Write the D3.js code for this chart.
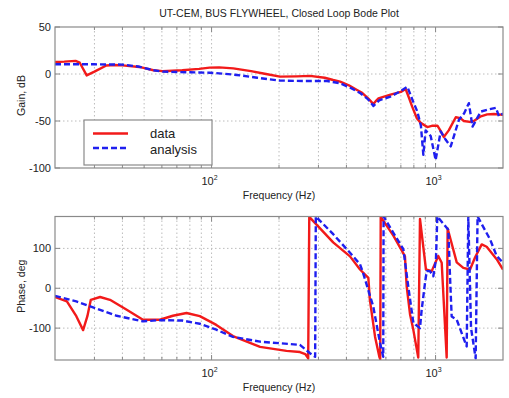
<!DOCTYPE html>
<html>
<head>
<meta charset="utf-8">
<script src="https://cdn.jsdelivr.net/npm/d3@7"></script>
<style>
  html, body { margin: 0; padding: 0; background: #fff; }
  svg { display: block; }
  text { font-family: "Liberation Sans", Arial, sans-serif; fill: #222; }
</style>
</head>
<body>
<svg id="chart" width="509" height="398"></svg>
<script>
// Measured closed-loop response ("data") and model prediction ("analysis")
const freqGainData = [20, 22, 24.7, 25.8, 27.7, 30, 33.9, 37, 40, 47.6, 55, 60.4, 74, 88, 98, 108, 125, 150, 175, 202, 240, 275, 320, 349, 375, 410, 446, 470, 500, 528, 545, 556, 629, 700, 735, 760, 787, 825, 858, 919, 970, 1019, 1050, 1088, 1145, 1231, 1290, 1337, 1420, 1482, 1593, 1700, 1822, 2000];
const gainData = [12.8, 13.2, 14, 12, -1.5, 2.5, 9, 9.5, 9.2, 7.5, 4, 3, 4, 5.5, 6.8, 7, 6, 3, 0, -2.8, -2.5, -2, -4, -6.4, -8.1, -12, -17, -20, -26, -32, -28, -26, -22, -19, -16, -25, -35, -47, -52, -56.5, -55, -55, -60, -67, -60, -46, -47, -50, -51, -50, -45, -43, -42.5, -43.5];

const freqGainModel = [20, 30, 40, 47, 55, 60.4, 80, 98, 108, 130, 160, 202, 260, 328, 375, 420, 462, 500, 528, 560, 629, 700, 748, 790, 829, 860, 882, 903, 951, 1001, 1054, 1110, 1169, 1270, 1340, 1408, 1462, 1593, 1700, 1860, 1918, 2000];
const gainModel = [10.3, 10.3, 10, 8, 4, 2.5, 1.8, 1.4, 0.7, -1, -4, -7, -7.5, -7.5, -9.9, -15, -20.5, -27, -34, -28, -24, -18, -13.5, -28, -40, -55, -86, -60, -66, -91.5, -61, -70, -77, -49, -42, -31, -56, -40, -38, -36, -45, -42];

const freqPhaseData = [20, 22.6, 24.9, 26.7, 27.9, 28.9, 31.8, 35.2, 41.8, 49.4, 58.8, 67.2, 77.3, 88.6, 105, 124.6, 164.6, 216, 248, 262, 270, 273, 349, 415, 460, 501, 509, 537, 561, 566, 569, 648, 706, 730, 743, 769, 796, 837, 852, 906, 961, 1028, 1065, 1121, 1132, 1243, 1330, 1425, 1500, 1607, 1691, 1874, 2000];
const phaseData = [-22, -33, -70, -105, -70, -29, -22, -29, -54, -79, -79, -69, -62, -70, -92, -120, -147, -157, -160, -165, -176, 179, 115, 80, 47, 26, -29, -122, -172, -178, 179, 132, 95, 80, 5, -65, -105, -174, 174, 47, 43, 81, 64, -174, 150, 65, 51, 47, 77, 110, 104, 73, 47];

const freqPhaseModel = [20, 24.9, 31.8, 37.7, 49.4, 58.8, 74, 88.6, 105, 124.6, 164.6, 248, 275, 290, 292, 350, 415, 460, 475, 527, 565, 584, 586, 648, 718, 755, 796, 852, 867, 897, 913, 944, 977, 1004, 1018, 1140, 1160, 1180, 1243, 1377, 1400, 1440, 1510, 1540, 1750, 1874, 2000];
const phaseModel = [-19, -33, -54, -69, -83, -80, -81, -89, -104, -122, -134, -142, -163, -172, 180, 135, 89, 60, 38, -46, -137, -172, 180, 139, 98, 5, -87, -100, -54, 13, 43, 43, 30, 72, 180, 147, 30, -71, -79, -146, 178, -100, -176, 180, 123, 81, 64];

const gridFreqs = [30, 40, 50, 60, 70, 80, 90, 100, 200, 300, 400, 500, 600, 700, 800, 900, 1000];
const decadeTicks = [100, 1000];
const gainTicks = [-100, -50, 0, 50];
const phaseTicks = [-100, 0, 100];
const legendLabels = ["data", "analysis"];

const titleText = "UT-CEM, BUS FLYWHEEL, Closed Loop Bode Plot";

const svg = d3.select("#chart");
svg.append("rect").attr("width", 509).attr("height", 398).attr("fill", "#fff");

const x = d3.scaleLog().domain([20, 2000]).range([55, 503]);
const yGain = d3.scaleLinear().domain([-100, 50]).range([168, 27]);
const yPhase = d3.scaleLinear().domain([-180, 180]).range([360, 216.5]);

const RED = "#f21a1a";
const BLUE = "#1f1fef";

function panel(y, yTicks, series, ylabel, id) {
  const [x0, x1] = x.range();
  const [yb, yt] = y.range();
  const g = svg.append("g");

  g.append("clipPath").attr("id", id).append("rect")
    .attr("x", x0).attr("y", yt).attr("width", x1 - x0).attr("height", yb - yt);

  // dotted grid
  g.selectAll(".vg").data(gridFreqs).join("line")
    .attr("x1", d => x(d)).attr("x2", d => x(d))
    .attr("y1", yt).attr("y2", yb)
    .attr("stroke", "#bcbcbc").attr("stroke-width", 1).attr("stroke-dasharray", "1.5,2.5");
  g.selectAll(".hg").data(yTicks.filter(t => y(t) > yt + 1 && y(t) < yb - 1)).join("line")
    .attr("x1", x0).attr("x2", x1)
    .attr("y1", d => y(d)).attr("y2", d => y(d))
    .attr("stroke", "#bcbcbc").attr("stroke-width", 1).attr("stroke-dasharray", "1.5,2.5");

  // inward tick marks
  const tk = g.append("g").attr("stroke", "#888").attr("stroke-width", 1);
  gridFreqs.forEach(f => {
    const len = decadeTicks.includes(f) ? 5 : 3;
    tk.append("line").attr("x1", x(f)).attr("x2", x(f)).attr("y1", yb).attr("y2", yb - len);
    tk.append("line").attr("x1", x(f)).attr("x2", x(f)).attr("y1", yt).attr("y2", yt + len);
  });
  yTicks.forEach(t => {
    tk.append("line").attr("x1", x0).attr("x2", x0 + 5).attr("y1", y(t)).attr("y2", y(t));
    tk.append("line").attr("x1", x1).attr("x2", x1 - 5).attr("y1", y(t)).attr("y2", y(t));
  });

  // curves
  const plot = g.append("g").attr("clip-path", `url(#${id})`);
  series.forEach(s => {
    const pts = s.f.map((f, i) => [f, s.v[i]]);
    plot.append("path")
      .attr("d", d3.line().x(d => x(d[0])).y(d => y(d[1]))(pts))
      .attr("fill", "none")
      .attr("stroke", s.color)
      .attr("stroke-width", 2.4)
      .attr("stroke-linejoin", "round")
      .attr("stroke-dasharray", s.dash || null);
  });

  // frame
  g.append("rect").attr("x", x0).attr("y", yt).attr("width", x1 - x0).attr("height", yb - yt)
    .attr("fill", "none").attr("stroke", "#8a8a8a").attr("stroke-width", 1.2);

  // y tick labels
  g.selectAll(".yl").data(yTicks).join("text")
    .attr("x", x0 - 4).attr("y", d => y(d) + 4)
    .attr("text-anchor", "end").attr("font-size", 11)
    .text(d => d);

  // x tick labels (10^n)
  decadeTicks.forEach(f => {
    const t = g.append("text").attr("x", x(f) - 2).attr("y", yb + 17)
      .attr("text-anchor", "middle").attr("font-size", 11);
    t.append("tspan").text("10");
    t.append("tspan").attr("dy", -5).attr("font-size", 7).text(Math.round(Math.log10(f)));
  });

  g.append("text").attr("x", (x0 + x1) / 2).attr("y", yb + 31)
    .attr("text-anchor", "middle").attr("font-size", 10.5)
    .text("Frequency (Hz)");

  g.append("text")
    .attr("transform", `translate(25,${(yt + yb) / 2 - 2}) rotate(-90)`)
    .attr("text-anchor", "middle").attr("font-size", 10.5)
    .text(ylabel);
}

panel(yGain, gainTicks, [
  { f: freqGainData, v: gainData, color: RED },
  { f: freqGainModel, v: gainModel, color: BLUE, dash: "6,3" }
], "Gain, dB", "clipGain");

panel(yPhase, phaseTicks, [
  { f: freqPhaseData, v: phaseData, color: RED },
  { f: freqPhaseModel, v: phaseModel, color: BLUE, dash: "6,3" }
], "Phase, deg", "clipPhase");

svg.append("text").attr("x", 279).attr("y", 17)
  .attr("text-anchor", "middle").attr("font-size", 10.5)
  .text(titleText);

// legend
const lg = svg.append("g");
lg.append("rect").attr("x", 84).attr("y", 120).attr("width", 128).attr("height", 45)
  .attr("fill", "#fff").attr("stroke", "#8a8a8a").attr("stroke-width", 1.2);
[{ color: RED, dash: null }, { color: BLUE, dash: "6,3" }].forEach((s, i) => {
  const yy = 133.5 + i * 14.5;
  lg.append("line").attr("x1", 93).attr("x2", 128).attr("y1", yy).attr("y2", yy)
    .attr("stroke", s.color).attr("stroke-width", 2.4).attr("stroke-dasharray", s.dash);
  lg.append("text").attr("x", 150).attr("y", 138 + i * 15.5).attr("font-size", 13)
    .text(legendLabels[i]);
});
</script>
</body>
</html>
